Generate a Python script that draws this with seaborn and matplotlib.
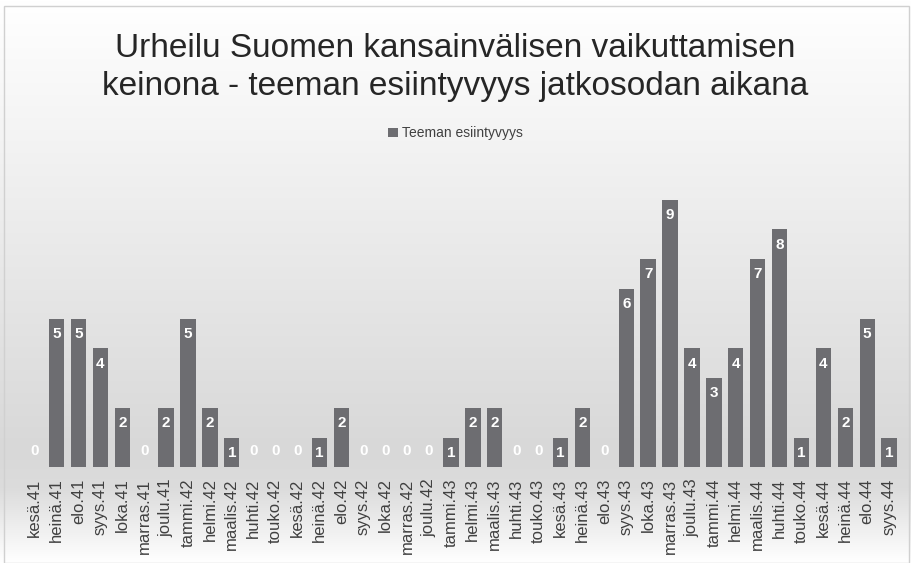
import numpy as np
import pandas as pd
import matplotlib
matplotlib.use("Agg")
import matplotlib.pyplot as plt
import seaborn as sns
from matplotlib.colors import LinearSegmentedColormap
from matplotlib.patches import Rectangle

# Kuukaudet ja teeman esiintyvyys
kuukaudet = ["kesä.41", "heinä.41", "elo.41", "syys.41", "loka.41", "marras.41",
             "joulu.41", "tammi.42", "helmi.42", "maalis.42", "huhti.42", "touko.42",
             "kesä.42", "heinä.42", "elo.42", "syys.42", "loka.42", "marras.42",
             "joulu.42", "tammi.43", "helmi.43", "maalis.43", "huhti.43", "touko.43",
             "kesä.43", "heinä.43", "elo.43", "syys.43", "loka.43", "marras.43",
             "joulu.43", "tammi.44", "helmi.44", "maalis.44", "huhti.44", "touko.44",
             "kesä.44", "heinä.44", "elo.44", "syys.44"]
esiintyvyys = [0, 5, 5, 4, 2, 0, 2, 5, 2, 1, 0, 0, 0, 1, 2, 0, 0, 0, 0, 1,
               2, 2, 0, 0, 1, 2, 0, 6, 7, 9, 4, 3, 4, 7, 8, 1, 4, 2, 5, 1]
sarja = "Teeman esiintyvyys"
otsikko = "Urheilu Suomen kansainvälisen vaikuttamisen\nkeinona - teeman esiintyvyys jatkosodan aikana"

df = pd.DataFrame({"kuukausi": kuukaudet, "arvo": esiintyvyys})

sns.set_theme(style="white")
plt.rcParams['font.family'] = ['Liberation Sans', 'DejaVu Sans']

palkki = "#6d6d71"
teksti = "#404040"

fig = plt.figure(figsize=(9.11, 5.63), dpi=100)

# Taustan liukuväri (valkoinen -> harmaa -> valkoinen)
tausta = fig.add_axes([0, 0, 1, 1], zorder=-10)
cmap = LinearSegmentedColormap.from_list(
    "tausta", [(0, "#ffffff"), (0.25, "#f3f3f3"), (0.8, "#d8d8d8"), (0.87, "#dcdcdc"), (1, "#ffffff")])
grad = np.linspace(0, 1, 256).reshape(-1, 1)
tausta.imshow(grad, aspect="auto", cmap=cmap, extent=[0, 1, 0, 1], origin="upper")
tausta.set_xlim(0, 1)
tausta.set_ylim(0, 1)
tausta.axis("off")
fig.patches.append(Rectangle((0.004, 0.0), 0.994, 0.99, transform=fig.transFigure,
                             fill=False, edgecolor="#d0d0d0", linewidth=1))

ax = fig.add_axes([0.026, 0.170, 0.962, 0.528])
ax.patch.set_alpha(0)
sns.barplot(data=df, x="kuukausi", y="arvo", color=palkki, saturation=1,
            width=0.7, linewidth=0, ax=ax, label=sarja)
ax.set_ylim(0, 10)
ax.set_xlim(-0.5, len(kuukaudet) - 0.5)
ax.set_xlabel("")
ax.set_ylabel("")
ax.set_yticks([])
ax.tick_params(axis="x", labelrotation=90, labelsize=12, labelcolor=teksti, length=0, pad=8)
for s in ax.spines.values():
    s.set_visible(False)

# Arvot palkkien sisään
for i, v in enumerate(esiintyvyys):
    dy = -11 if v > 0 else 12
    ax.annotate(str(v), (i, v), xytext=(0, dy), textcoords="offset points",
                ha="center", va="center", color="white", fontsize=11, fontweight="bold")

fig.text(0.5, 0.880, otsikko, ha="center", va="center", fontsize=24,
         color="#262626", linespacing=1.3)

leg = ax.legend(loc="center", bbox_to_anchor=(0.5, 0.763), bbox_transform=fig.transFigure,
                frameon=False, fontsize=10, handlelength=0.7, handleheight=0.7,
                handletextpad=0.3)
for t in leg.get_texts():
    t.set_color(teksti)

fig.savefig("out.png", dpi=100)
